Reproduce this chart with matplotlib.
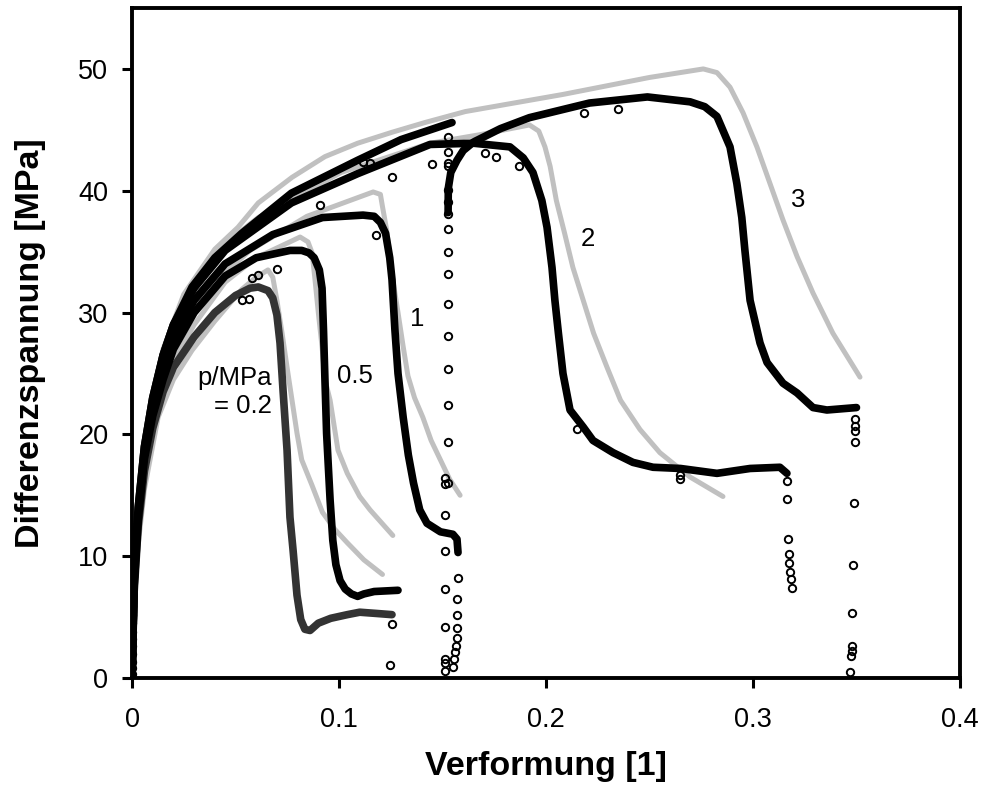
import matplotlib
matplotlib.use('Agg')
import matplotlib.pyplot as plt

plt.rcParams['font.family'] = ['Liberation Sans', 'DejaVu Sans']

# --- simulation (light gray) ---
sim02_x = [0, 0.001, 0.003, 0.006, 0.0126, 0.02, 0.029, 0.04, 0.053, 0.06, 0.0657, 0.068, 0.070, 0.0725, 0.0749,
           0.0773, 0.0797, 0.082, 0.087, 0.092, 0.098, 0.104, 0.112, 0.121]
sim02_y = [0, 6, 11, 15.5, 21.4, 24.5, 26.9, 29.3, 31.9, 32.9, 33.5, 32.9, 31.0, 28.3, 25.5,
           22.8, 20.1, 17.9, 15.8, 13.6, 12.2, 11.1, 9.7, 8.5]
sim05_x = [0, 0.001, 0.003, 0.008, 0.013, 0.02, 0.03, 0.045, 0.06, 0.075, 0.0812, 0.085, 0.087, 0.0884, 0.090,
           0.0918, 0.0932, 0.0957, 0.0995, 0.104, 0.110, 0.115, 0.126]
sim05_y = [0, 6.5, 12.5, 19, 22.5, 26, 29, 32.5, 34.5, 35.7, 36.2, 35.8, 34.9, 32.7, 30.0,
           27.2, 24.5, 22.8, 18.7, 16.8, 14.9, 13.8, 11.7]
sim1_x = [0, 0.001, 0.003, 0.008, 0.015, 0.025, 0.04, 0.057, 0.0845, 0.1165, 0.120, 0.121, 0.123, 0.1246, 0.126,
          0.1285, 0.131, 0.1333, 0.1365, 0.1405, 0.1445, 0.149, 0.1535, 0.1585]
sim1_y = [0, 7, 13, 20, 25, 29, 32.5, 35.1, 37.9, 39.9, 39.7, 38.7, 36.8, 34.6, 32.7,
          30.0, 27.2, 24.8, 23.0, 21.4, 19.5, 17.9, 16.3, 15.0]
sim2_x = [0, 0.001, 0.003, 0.008, 0.015, 0.025, 0.04, 0.061, 0.101, 0.144, 0.168, 0.192, 0.1965, 0.1995, 0.202,
          0.205, 0.209, 0.213, 0.218, 0.223, 0.2295, 0.236, 0.2454, 0.255, 0.2696, 0.2855]
sim2_y = [0, 7, 13.5, 21, 26.5, 31, 35, 37.8, 41.5, 43.9, 44.6, 45.4, 44.9, 43.6, 42.0,
          39.2, 36.5, 33.7, 31.0, 28.3, 25.5, 22.8, 20.4, 18.5, 16.5, 14.9]
sim3_x = [0, 0.001, 0.003, 0.008, 0.015, 0.025, 0.04, 0.0512, 0.061, 0.0773, 0.0932, 0.109, 0.1256, 0.1415, 0.161,
          0.208, 0.25, 0.276, 0.2826, 0.2889, 0.2952, 0.3019, 0.3082, 0.3145, 0.3213, 0.329, 0.3386, 0.3517]
sim3_y = [0, 7, 14, 21.5, 27, 31.5, 35.2, 37.0, 39.0, 41.1, 42.8, 43.9, 44.8, 45.6, 46.5,
          47.9, 49.3, 50.0, 49.7, 48.5, 46.4, 43.6, 40.6, 37.6, 34.6, 31.6, 28.3, 24.7]

# --- experiments (dense records) ---
exp02_x = [0, 0.001, 0.003, 0.006, 0.01, 0.015, 0.02, 0.03, 0.04, 0.05, 0.057, 0.061, 0.0657, 0.068, 0.070, 0.0715,
           0.073, 0.0749, 0.0763, 0.0778, 0.0797, 0.0815, 0.0835, 0.086, 0.090, 0.096, 0.104, 0.110, 0.118, 0.1256]
exp02_y = [0, 7, 12.5, 17, 20.5, 23.5, 25.5, 28, 30, 31.4, 32.0, 32.1, 31.8, 31.2, 29.8, 27.5,
           23.5, 18.7, 13.2, 10.5, 6.8, 4.8, 4.0, 3.9, 4.5, 4.9, 5.2, 5.4, 5.3, 5.2]
exp05_x = [0, 0.001, 0.003, 0.006, 0.01, 0.015, 0.02, 0.03, 0.045, 0.06, 0.0763, 0.082, 0.0855, 0.088, 0.0905,
           0.0918, 0.0925, 0.0932, 0.094, 0.0948, 0.0957, 0.097, 0.0985, 0.1005, 0.103, 0.106, 0.109, 0.112,
           0.117, 0.1285]
exp05_y = [0, 7.5, 13, 18, 21.5, 24.5, 27, 30, 33, 34.5, 35.1, 35.1, 34.9, 34.5, 33.5,
           32.0, 28.6, 24.5, 20.1, 17.5, 14.6, 11.3, 9.3, 8.0, 7.3, 6.9, 6.7, 6.9,
           7.1, 7.2]
exp1_x = [0, 0.001, 0.003, 0.006, 0.01, 0.015, 0.02, 0.03, 0.045, 0.068, 0.092, 0.1116, 0.117, 0.12, 0.1225, 0.1245,
          0.1256, 0.127, 0.1285, 0.131, 0.1335, 0.136, 0.139, 0.1425, 0.149, 0.155, 0.157, 0.1575]
exp1_y = [0, 8, 13.5, 18.5, 22, 25.5, 28, 31, 34, 36.4, 37.8, 38.0, 37.9, 37.4, 36.5, 34.5,
          32.7, 28.6, 25.0, 21.4, 18.3, 16.0, 13.8, 12.7, 12.0, 11.8, 11.4, 10.3]
exp2_x = [0, 0.001, 0.003, 0.006, 0.01, 0.015, 0.02, 0.03, 0.045, 0.077, 0.109, 0.144, 0.165, 0.1826, 0.189, 0.1937,
          0.198, 0.2005, 0.2029, 0.2043, 0.206, 0.2082, 0.2116, 0.218, 0.2227, 0.2324, 0.242, 0.2517, 0.265,
          0.2826, 0.2986, 0.313, 0.3164]
exp2_y = [0, 8, 14, 19, 23, 26.5, 29, 32, 35.1, 39.0, 41.4, 43.8, 43.9, 43.6, 42.7, 41.5,
          39.2, 37.0, 33.7, 31.0, 28.3, 25.0, 22.0, 20.6, 19.5, 18.5, 17.7, 17.3, 17.2,
          16.8, 17.2, 17.3, 16.8]
exp3a_x = [0, 0.001, 0.003, 0.006, 0.01, 0.015, 0.02, 0.029, 0.04, 0.053, 0.077, 0.109, 0.13, 0.1546]
exp3a_y = [0, 8, 14, 19, 23, 26.5, 29, 32.1, 34.5, 36.5, 39.8, 42.5, 44.2, 45.6]
exp3b_x = [0.1527, 0.1528, 0.154, 0.157, 0.160, 0.165, 0.178, 0.192, 0.221, 0.249, 0.2696, 0.2767, 0.2826, 0.2889,
           0.2922, 0.2946, 0.2961, 0.2986, 0.3034, 0.3068, 0.3145, 0.3213, 0.329, 0.3357, 0.350]
exp3b_y = [38.2, 40.2, 41.5, 42.5, 43.3, 44.0, 45.1, 46.0, 47.2, 47.7, 47.3, 46.9, 46.1, 43.6,
           40.6, 37.8, 35.1, 31.0, 27.5, 25.9, 24.2, 23.4, 22.2, 22.0, 22.2]

# --- sparse single records (open circles) ---
pts_x = ([0.0] * 14
         + [0.1512] * 9 + [0.1525] * 16
         + [0.1575, 0.1570, 0.1570, 0.1570, 0.1570, 0.1565, 0.1560, 0.1555, 0.1550]
         + [0.1246, 0.1256]
         + [0.3164, 0.3165, 0.3170, 0.3172, 0.3175, 0.3180, 0.3185, 0.3190]
         + [0.3495, 0.3495, 0.3495, 0.3495, 0.349, 0.3485, 0.348, 0.348, 0.348, 0.3475, 0.347]
         + [0.053, 0.0565, 0.058, 0.061, 0.070, 0.091, 0.118, 0.1116, 0.115, 0.1256, 0.145,
            0.1705, 0.176, 0.187, 0.2184, 0.235, 0.215, 0.2647, 0.2645])
pts_y = ([0.3, 0.8, 1.3, 2.0, 2.6, 3.2, 3.8, 4.5, 5.2, 5.9, 6.7, 7.5, 8.3, 9.1]
         + [16.4, 15.9, 13.4, 10.4, 7.3, 4.2, 1.6, 1.2, 0.6]
         + [16.0, 19.4, 22.4, 25.4, 28.1, 30.7, 33.2, 35.0, 36.9, 38.1, 39.1, 40.1, 42.0, 43.2, 44.4, 42.3]
         + [8.2, 6.5, 5.2, 4.1, 3.3, 2.6, 2.1, 1.6, 0.9]
         + [1.1, 4.4]
         + [16.2, 14.7, 11.4, 10.2, 9.4, 8.7, 8.1, 7.4]
         + [21.3, 20.7, 20.3, 19.4, 14.4, 9.3, 5.3, 2.6, 2.2, 1.8, 0.5]
         + [31.0, 31.1, 32.8, 33.1, 33.6, 38.8, 36.4, 42.4, 42.3, 41.1, 42.2,
            43.1, 42.8, 42.0, 46.4, 46.7, 20.4, 16.3, 16.7])

# curve labels
label_text = ['p/MPa\n= 0.2', '0.5', '1', '2', '3']
label_x = [0.0676, 0.1077, 0.138, 0.2203, 0.3217]
label_y = [23.5, 24.8, 29.5, 36.0, 39.2]

fig = plt.figure(figsize=(9.86, 7.94), dpi=100)
ax = fig.add_axes([0.1339, 0.1461, 0.8397, 0.8438])

gray = '#c0c0c0'
for sx, sy in [(sim02_x, sim02_y), (sim05_x, sim05_y), (sim1_x, sim1_y), (sim2_x, sim2_y), (sim3_x, sim3_y)]:
    ax.plot(sx, sy, color=gray, lw=3.6, solid_capstyle='round', solid_joinstyle='round', zorder=2)

ax.plot(exp02_x, exp02_y, color='#333333', lw=5.5, solid_capstyle='round', solid_joinstyle='round', zorder=3)
for ex, ey in [(exp05_x, exp05_y), (exp1_x, exp1_y), (exp2_x, exp2_y), (exp3a_x, exp3a_y), (exp3b_x, exp3b_y)]:
    ax.plot(ex, ey, color='black', lw=5.5, solid_capstyle='round', solid_joinstyle='round', zorder=3)

ax.plot(pts_x, pts_y, 'o', ms=5.3, mfc='none', mec='black', mew=1.4, zorder=4)

for t, lx, ly in zip(label_text, label_x, label_y):
    ax.text(lx, ly, t, fontsize=18.5, ha='right' if '\n' in t else 'center', va='center',
            multialignment='right', linespacing=1.2)

ax.set_xlim(0, 0.4)
ax.set_ylim(0, 55)
ax.set_xticks([0, 0.1, 0.2, 0.3, 0.4])
ax.set_xticklabels(['0', '0.1', '0.2', '0.3', '0.4'])
ax.set_yticks([0, 10, 20, 30, 40, 50])
for s in ax.spines.values():
    s.set_linewidth(2.8)
ax.tick_params(direction='out', length=7, width=2.2, labelsize=19.5)
ax.tick_params(axis='x', pad=14)
ax.tick_params(axis='y', pad=10)
ax.set_xlabel('Verformung [1]', fontsize=24.5, fontweight='bold', labelpad=13)
ax.set_ylabel('Differenzspannung [MPa]', fontsize=24.5, fontweight='bold', labelpad=23)

fig.savefig('out.png', dpi=100)
